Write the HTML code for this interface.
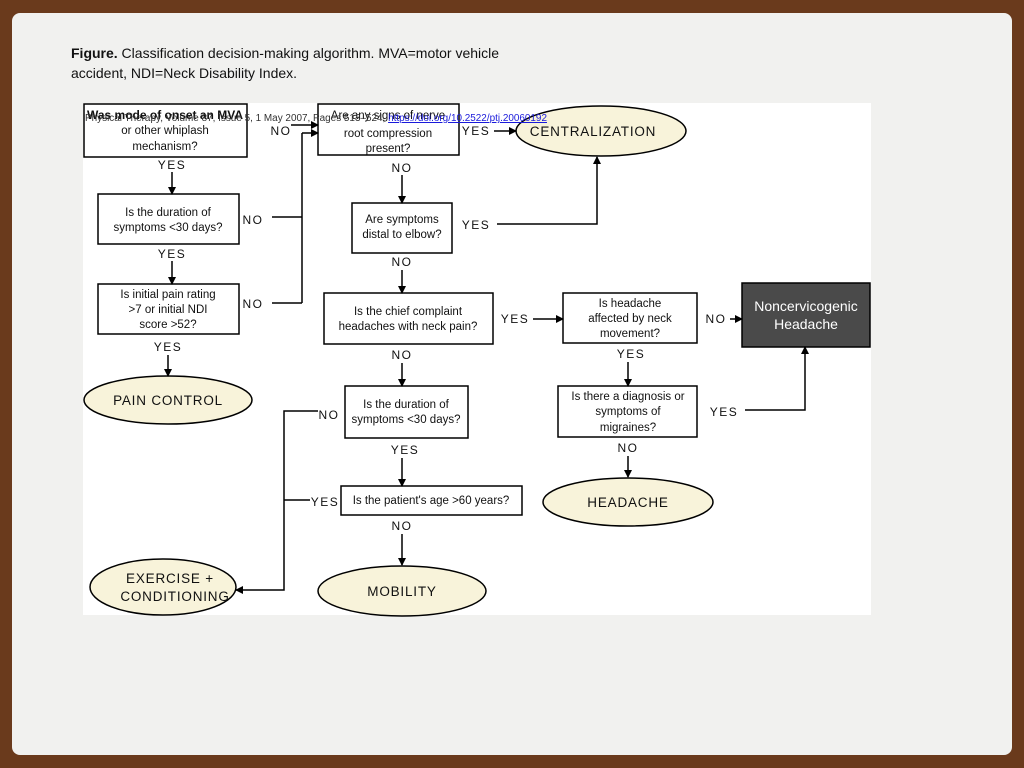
<!DOCTYPE html>
<html><head><meta charset="utf-8"><style>
html,body{margin:0;padding:0;width:1024px;height:768px;overflow:hidden;background:#6a3a1c;}
.card{position:absolute;left:12px;top:13px;width:1000px;height:742px;background:#f1f1ef;border-radius:8px;}
.cap{position:absolute;left:71px;top:43px;font:14px "Liberation Sans",sans-serif;color:#111;line-height:20px;}
svg{position:absolute;left:0;top:0;}
</style></head><body>
<div class="card"></div>
<div class="cap"><b>Figure.</b> Classification decision-making algorithm. MVA=motor vehicle<br>accident, NDI=Neck Disability Index.</div>
<svg width="1024" height="768" xmlns="http://www.w3.org/2000/svg" font-family="Liberation Sans, sans-serif">
<defs><marker id="a" markerWidth="8" markerHeight="8" refX="7" refY="4" orient="auto" markerUnits="userSpaceOnUse"><path d="M0,0 L8,4 L0,8z" fill="#000"/></marker></defs>
<rect x="83" y="103" width="788" height="512" fill="#fff"/>
<g fill="#fff" stroke="#000" stroke-width="1.5">
<rect x="84" y="104" width="163" height="53"/>
<rect x="318" y="104" width="141" height="51"/>
<rect x="98" y="194" width="141" height="50"/>
<rect x="352" y="203" width="100" height="50"/>
<rect x="98" y="284" width="141" height="50"/>
<rect x="324" y="293" width="169" height="51"/>
<rect x="563" y="293" width="134" height="50"/>
<rect x="345" y="386" width="123" height="52"/>
<rect x="558" y="386" width="139" height="51"/>
<rect x="341" y="486" width="181" height="29"/>
<g fill="#f8f3da"><ellipse cx="601" cy="131" rx="85" ry="25"/><ellipse cx="168" cy="400" rx="84" ry="24"/><ellipse cx="628" cy="502" rx="85" ry="24"/><ellipse cx="163" cy="587" rx="73" ry="28"/><ellipse cx="402" cy="591" rx="84" ry="25"/></g>
</g>
<rect x="742" y="283" width="128" height="64" fill="#4a4a4a" stroke="#000" stroke-width="1.5"/>
<g stroke="#000" stroke-width="1.5" fill="none">
<path d="M291,125 H318" marker-end="url(#a)"/>
<path d="M272,217 H302 M272,303 H302 M302,303 V133"/><path d="M302,133 H318" marker-end="url(#a)"/>
<path d="M494,131 H516" marker-end="url(#a)"/>
<path d="M497,224 H597 V157" marker-end="url(#a)"/>
<path d="M172,172 V194" marker-end="url(#a)"/>
<path d="M172,261 V284" marker-end="url(#a)"/>
<path d="M168,355 V376" marker-end="url(#a)"/>
<path d="M402,175 V203" marker-end="url(#a)"/>
<path d="M402,270 V293" marker-end="url(#a)"/>
<path d="M533,319 H563" marker-end="url(#a)"/>
<path d="M730,319 H742" marker-end="url(#a)"/>
<path d="M628,362 V386" marker-end="url(#a)"/>
<path d="M745,410 H805 V347" marker-end="url(#a)"/>
<path d="M402,363 V386" marker-end="url(#a)"/>
<path d="M318,411 H284 V590 H236" marker-end="url(#a)"/>
<path d="M310,500 H284"/>
<path d="M402,458 V486" marker-end="url(#a)"/>
<path d="M402,534 V565" marker-end="url(#a)"/>
<path d="M628,456 V477" marker-end="url(#a)"/>
</g>
<g font-size="11.5" text-anchor="middle" fill="#111">
<text x="165" y="134">or other whiplash</text><text x="165" y="150">mechanism?</text>
<text x="388" y="119">Are any signs of nerve</text><text x="388" y="137">root compression</text><text x="388" y="152">present?</text>
<text x="168" y="216">Is the duration of</text><text x="168" y="231">symptoms &lt;30 days?</text>
<text x="402" y="223">Are symptoms</text><text x="402" y="238">distal to elbow?</text>
<text x="168" y="298">Is initial pain rating</text><text x="168" y="313">&gt;7 or initial NDI</text><text x="168" y="328">score &gt;52?</text>
<text x="408" y="315">Is the chief complaint</text><text x="408" y="330">headaches with neck pain?</text>
<text x="630" y="307">Is headache</text><text x="630" y="322">affected by neck</text><text x="630" y="337">movement?</text>
<text x="406" y="408">Is the duration of</text><text x="406" y="423">symptoms &lt;30 days?</text>
<text x="628" y="400">Is there a diagnosis or</text><text x="628" y="415">symptoms of</text><text x="628" y="431">migraines?</text>
<text x="431" y="504">Is the patient's age &gt;60 years?</text>
</g>
<text x="165" y="119" font-size="12" font-weight="bold" text-anchor="middle" fill="#111">Was mode of onset an MVA</text>
<g font-size="14" text-anchor="middle" fill="#fff"><text x="806" y="311">Noncervicogenic</text><text x="806" y="329">Headache</text></g>
<g font-size="13.5" text-anchor="middle" fill="#111" letter-spacing="0.8">
<text x="593" y="136">CENTRALIZATION</text>
<text x="168" y="405">PAIN CONTROL</text>
<text x="628" y="507">HEADACHE</text>
<text x="170" y="583">EXERCISE +</text><text x="175" y="601">CONDITIONING</text>
<text x="402" y="596">MOBILITY</text>
</g>
<g font-size="12" text-anchor="middle" fill="#111" letter-spacing="1.5">
<text x="281" y="135">NO</text><text x="476" y="135">YES</text>
<text x="172" y="169">YES</text><text x="402" y="172">NO</text>
<text x="253" y="224">NO</text><text x="476" y="229">YES</text>
<text x="172" y="258">YES</text><text x="402" y="266">NO</text>
<text x="253" y="308">NO</text><text x="515" y="323">YES</text><text x="716" y="323">NO</text>
<text x="168" y="351">YES</text><text x="402" y="359">NO</text><text x="631" y="358">YES</text>
<text x="329" y="419">NO</text><text x="724" y="416">YES</text>
<text x="628" y="452">NO</text><text x="405" y="454">YES</text>
<text x="325" y="506">YES</text><text x="402" y="530">NO</text>
</g>
<text x="85" y="121" font-size="10" fill="#333" textLength="462" lengthAdjust="spacingAndGlyphs">Physical Therapy, Volume 87, Issue 5, 1 May 2007, Pages 513–524, <tspan fill="#1a1adb" text-decoration="underline">https://doi.org/10.2522/ptj.20060192</tspan></text>
</svg>
</body></html>
